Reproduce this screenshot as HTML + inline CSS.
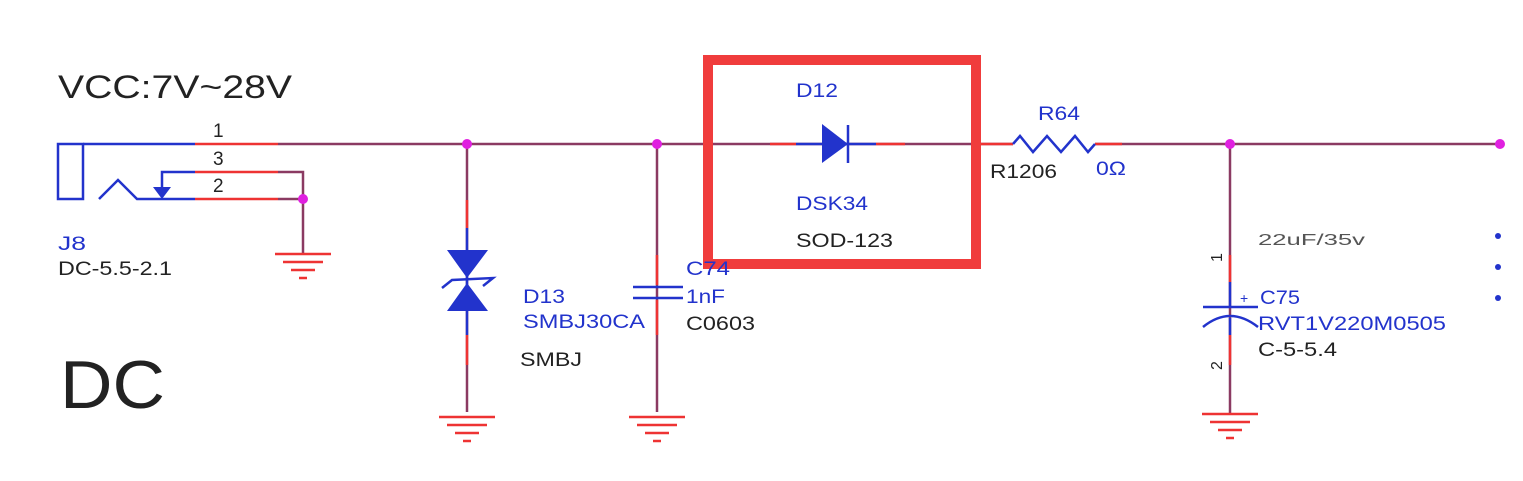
<!DOCTYPE html><html><head><style>body{margin:0;background:#fff}svg{display:block}text{font-family:"Liberation Sans",sans-serif}</style></head><body>
<svg width="1523" height="481" xmlns="http://www.w3.org/2000/svg">
<defs><g id="gnd" stroke="#e33" stroke-width="2.5"><line x1="-28" y1="0" x2="28" y2="0"/><line x1="-20" y1="8" x2="20" y2="8"/><line x1="-12" y1="16" x2="12" y2="16"/><line x1="-4" y1="24" x2="4" y2="24"/></g></defs>
<g stroke-width="2.5" fill="none">
<line x1="278" y1="144" x2="1500" y2="144" stroke="#8b3a62"/>
<rect x="58" y="144" width="25" height="55" stroke="#2233cc"/>
<line x1="83" y1="144" x2="195" y2="144" stroke="#2233cc"/>
<line x1="195" y1="144" x2="278" y2="144" stroke="#e33"/>
<polyline points="162,190 162,172 195,172" stroke="#2233cc"/>
<polyline points="99,199 118,180 137,199 195,199" stroke="#2233cc"/>
<line x1="195" y1="172" x2="278" y2="172" stroke="#e33"/>
<line x1="195" y1="199" x2="278" y2="199" stroke="#e33"/>
<polyline points="278,172 303,172 303,254" stroke="#8b3a62"/>
<line x1="278" y1="199" x2="303" y2="199" stroke="#8b3a62"/>
<line x1="467" y1="144" x2="467" y2="412" stroke="#8b3a62"/>
<line x1="467" y1="200" x2="467" y2="228" stroke="#e33"/>
<line x1="467" y1="228" x2="467" y2="335" stroke="#2233cc"/>
<line x1="467" y1="335" x2="467" y2="365" stroke="#e33"/>
<line x1="657" y1="144" x2="657" y2="412" stroke="#8b3a62"/>
<line x1="657" y1="255" x2="657" y2="285" stroke="#e33"/>
<line x1="657" y1="300" x2="657" y2="335" stroke="#e33"/>
<line x1="633" y1="287" x2="683" y2="287" stroke="#2233cc"/>
<line x1="633" y1="298" x2="683" y2="298" stroke="#2233cc"/>
<line x1="770" y1="144" x2="796" y2="144" stroke="#e33"/>
<line x1="796" y1="144" x2="876" y2="144" stroke="#2233cc"/>
<line x1="876" y1="144" x2="905" y2="144" stroke="#e33"/>
<line x1="848" y1="125" x2="848" y2="163" stroke="#2233cc"/>
<line x1="980" y1="144" x2="1013" y2="144" stroke="#e33"/>
<line x1="1095" y1="144" x2="1122" y2="144" stroke="#e33"/>
<line x1="1013" y1="144" x2="1095" y2="144" stroke="#fff" stroke-width="4"/>
<polyline points="1013,144 1020,136 1033,152 1047,136 1061,152 1075,136 1088,152 1095,144" stroke="#2233cc"/>
<line x1="1230" y1="144" x2="1230" y2="414" stroke="#8b3a62"/>
<line x1="1230" y1="255" x2="1230" y2="282" stroke="#e33"/>
<line x1="1230" y1="282" x2="1230" y2="307" stroke="#2233cc"/>
<line x1="1230" y1="318" x2="1230" y2="335" stroke="#2233cc"/>
<line x1="1230" y1="335" x2="1230" y2="365" stroke="#e33"/>
<line x1="1203" y1="307" x2="1258" y2="307" stroke="#2233cc"/>
<path d="M1203,327 Q1230,305 1258,327" stroke="#2233cc"/>
<rect x="708" y="60" width="268" height="204" stroke="#f03c3c" stroke-width="10"/>
</g>
<polygon points="162,199 153,187 171,187" fill="#2233cc"/>
<polygon points="447,250 488,250 467,278" fill="#2233cc"/>
<polygon points="447,311 488,311 467,283" fill="#2233cc"/>
<polyline points="442,288 452,280 493,278 483,286" fill="none" stroke="#2233cc" stroke-width="2.5"/>
<polygon points="822,124 848,144 822,163" fill="#2233cc"/>
<use href="#gnd" x="303" y="254"/><use href="#gnd" x="467" y="417"/><use href="#gnd" x="657" y="417"/><use href="#gnd" x="1230" y="414"/>
<g fill="#e020e0"><circle cx="303" cy="199" r="5"/><circle cx="467" cy="144" r="5"/><circle cx="657" cy="144" r="5"/><circle cx="1230" cy="144" r="5"/><circle cx="1500" cy="144" r="5"/></g>
<g fill="#2233cc"><circle cx="1498" cy="236" r="3"/><circle cx="1498" cy="267" r="3"/><circle cx="1498" cy="298" r="3"/></g>
<g font-size="19" fill="#222" lengthAdjust="spacingAndGlyphs">
<text x="58" y="98" font-size="32" textLength="234" lengthAdjust="spacingAndGlyphs">VCC:7V~28V</text>
<text x="213" y="137">1</text><text x="213" y="165">3</text><text x="213" y="192">2</text>
<text x="58" y="250" fill="#2233cc" textLength="28" lengthAdjust="spacingAndGlyphs">J8</text>
<text x="58" y="275" textLength="114" lengthAdjust="spacingAndGlyphs">DC-5.5-2.1</text>
<text x="60" y="408" font-size="68" textLength="105" lengthAdjust="spacingAndGlyphs">DC</text>
<text x="523" y="303" fill="#2233cc" textLength="42" lengthAdjust="spacingAndGlyphs">D13</text>
<text x="523" y="328" fill="#2233cc" textLength="122" lengthAdjust="spacingAndGlyphs">SMBJ30CA</text>
<text x="520" y="366" textLength="62" lengthAdjust="spacingAndGlyphs">SMBJ</text>
<text x="686" y="275" fill="#2233cc" textLength="44" lengthAdjust="spacingAndGlyphs">C74</text>
<text x="686" y="303" fill="#2233cc" textLength="39" lengthAdjust="spacingAndGlyphs">1nF</text>
<text x="686" y="330" textLength="69" lengthAdjust="spacingAndGlyphs">C0603</text>
<text x="796" y="97" fill="#2233cc" textLength="42" lengthAdjust="spacingAndGlyphs">D12</text>
<text x="796" y="210" fill="#2233cc" textLength="72" lengthAdjust="spacingAndGlyphs">DSK34</text>
<text x="796" y="247" textLength="97" lengthAdjust="spacingAndGlyphs">SOD-123</text>
<text x="1038" y="120" fill="#2233cc" textLength="42" lengthAdjust="spacingAndGlyphs">R64</text>
<text x="990" y="178" textLength="67" lengthAdjust="spacingAndGlyphs">R1206</text>
<text x="1096" y="175" fill="#2233cc" textLength="30" lengthAdjust="spacingAndGlyphs">0Ω</text>
<text x="1258" y="245" font-family="Liberation Mono" font-size="16" fill="#555" textLength="107" lengthAdjust="spacingAndGlyphs">22uF/35v</text>
<text x="1260" y="304" fill="#2233cc" textLength="40" lengthAdjust="spacingAndGlyphs">C75</text><text x="1240" y="303" font-size="14" fill="#2233cc">+</text>
<text x="1258" y="330" fill="#2233cc" textLength="188" lengthAdjust="spacingAndGlyphs">RVT1V220M0505</text>
<text x="1258" y="356" textLength="79" lengthAdjust="spacingAndGlyphs">C-5-5.4</text>
<text transform="translate(1222,262) rotate(-90)" font-size="16">1</text>
<text transform="translate(1222,370) rotate(-90)" font-size="16">2</text>
</g>
</svg></body></html>
